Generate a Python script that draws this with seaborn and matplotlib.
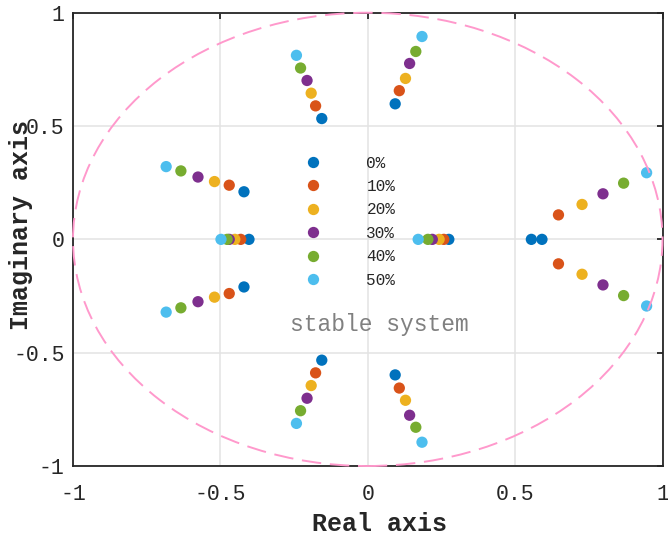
import numpy as np
import pandas as pd
import matplotlib
matplotlib.use("Agg")
import matplotlib.pyplot as plt
from matplotlib.patches import Circle
import seaborn as sns

# Closed-loop poles for each load level (upper half-plane branches; their
# conjugates are the mirrored lower branches)
load_levels = ['0%', '10%', '20%', '30%', '40%', '50%']
colors = ['#0072BD', '#D95319', '#EDB120', '#7E2F8E', '#77AC30', '#4DBEEE']

branch_upper_left = [-0.420 + 0.210j, -0.470 + 0.239j, -0.520 + 0.255j,
                     -0.576 + 0.275j, -0.634 + 0.302j, -0.684 + 0.321j]
branch_real_left = [-0.403, -0.431, -0.451, -0.470, -0.477, -0.498]
branch_upper_mid_left = [-0.156 + 0.533j, -0.177 + 0.589j, -0.192 + 0.645j,
                         -0.206 + 0.701j, -0.228 + 0.756j, -0.242 + 0.812j]
branch_upper_mid_right = [0.093 + 0.598j, 0.107 + 0.656j, 0.128 + 0.710j,
                          0.142 + 0.776j, 0.163 + 0.829j, 0.184 + 0.895j]
branch_real_mid = [0.275, 0.258, 0.242, 0.219, 0.204, 0.171]
branch_right_a = [0.555 + 0j, 0.647 + 0.108j, 0.727 + 0.154j,
                  0.798 + 0.201j, 0.868 + 0.248j, 0.946 + 0.294j]
branch_right_b = [0.591 + 0j, 0.647 - 0.108j, 0.727 - 0.154j,
                  0.798 - 0.201j, 0.868 - 0.248j, 0.946 - 0.294j]

tick_values = [-1, -0.5, 0, 0.5, 1]
tick_labels = ['-1', '-0.5', '0', '0.5', '1']

rows = []
for i, level in enumerate(load_levels):
    poles = [
        branch_upper_left[i], np.conj(branch_upper_left[i]),
        branch_real_left[i],
        branch_upper_mid_left[i], np.conj(branch_upper_mid_left[i]),
        branch_upper_mid_right[i], np.conj(branch_upper_mid_right[i]),
        branch_real_mid[i],
        branch_right_a[i], branch_right_b[i],
    ]
    for p in poles:
        p = complex(p)
        rows.append({'Real': p.real, 'Imag': p.imag, 'Load': level})
df = pd.DataFrame(rows)

sns.set_style('white')
plt.rcParams['font.family'] = ['Liberation Mono', 'DejaVu Sans Mono']
plt.rcParams['text.color'] = '#262626'

fig = plt.figure(figsize=(6.68, 5.41), dpi=100)
ax = fig.add_axes([0.1093, 0.1386, 0.8825, 0.8379])

sns.scatterplot(data=df, x='Real', y='Imag', hue='Load', hue_order=load_levels,
                palette=colors, s=66, linewidth=0, ax=ax, zorder=3)

# unit circle (stability boundary)
circ = Circle((0, 0), 1, fill=False, edgecolor='#FF99CC', lw=1.4,
              linestyle=(0, (10, 4.5)), zorder=4, clip_on=False)
ax.add_patch(circ)

ax.set_xlim(-1, 1)
ax.set_ylim(-1, 1)
ax.set_xticks(tick_values)
ax.set_xticklabels(tick_labels)
ax.set_yticks(tick_values)
ax.set_yticklabels(tick_labels)

ax.grid(True, color='#E3E3E3', lw=1.1, zorder=0)
ax.set_axisbelow(True)
for sp in ax.spines.values():
    sp.set_color('#262626')
    sp.set_linewidth(1.3)
    sp.set_zorder(3.5)
ax.tick_params(direction='in', length=4.3, width=1.3, color='#262626',
               top=True, right=True, labelsize=15.5, labelcolor='#262626')
ax.tick_params(axis='x', pad=13)
ax.tick_params(axis='y', pad=6)

ax.set_xlabel('Real axis', fontsize=18, fontweight='bold', color='#262626')
ax.set_ylabel('Imaginary axis', fontsize=18, fontweight='bold', color='#262626')
ax.xaxis.set_label_coords(0.5196, -0.101)
ax.yaxis.set_label_coords(-0.068, 0.532)

ax.text(0.039, -0.377, 'stable system', ha='center', va='center',
        fontsize=16.5, color='#808080')

sns.move_legend(ax, loc='center', bbox_to_anchor=(0.4634, 0.539),
                frameon=False, title=None, fontsize=11.6,
                handlelength=2.0, handletextpad=2.3, labelspacing=0.52)

fig.savefig('out.png', dpi=100)
